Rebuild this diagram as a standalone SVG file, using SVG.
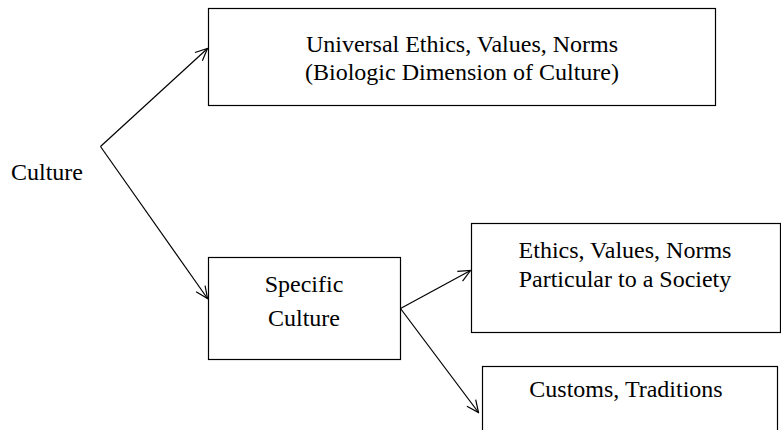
<svg xmlns="http://www.w3.org/2000/svg" width="781" height="430" viewBox="0 0 781 430">
<defs>
<marker id="arr" markerWidth="14" markerHeight="14" refX="13" refY="7" orient="auto" markerUnits="userSpaceOnUse">
<path d="M1,1.5 L13,7 L1,12.5" fill="none" stroke="#000" stroke-width="1.2"/>
</marker>
<style>
.box{fill:#fff;stroke:#000;stroke-width:1.2}
.t{font-family:"Liberation Serif","Times New Roman",serif;font-size:24px;fill:#000;text-anchor:middle}
.c{fill:none;stroke:#000;stroke-width:1.2;marker-end:url(#arr)}
</style>
</defs>
<g id="connectors">
<path class="c" d="M100.5,146.5 L207.5,48.5"/>
<path class="c" d="M100.5,146.5 L207.5,298.5"/>
<path class="c" d="M400.5,308.5 L470.5,270.5"/>
<path class="c" d="M400.5,308.5 L478.5,412.5"/>
</g>
<g id="culture">
<text class="t" x="47" y="179.5">Culture</text>
</g>
<g id="universal">
<rect class="box" x="208.5" y="8.5" width="507" height="97"/>
<text class="t" x="462" y="52">Universal Ethics, Values, Norms</text>
<text class="t" x="462" y="80">(Biologic Dimension of Culture)</text>
</g>
<g id="specific">
<rect class="box" x="208.5" y="257.5" width="192" height="102"/>
<text class="t" x="304" y="292">Specific</text>
<text class="t" x="304" y="326">Culture</text>
</g>
<g id="particular">
<rect class="box" x="471.5" y="223.5" width="309" height="109"/>
<text class="t" x="625" y="258">Ethics, Values, Norms</text>
<text class="t" x="625" y="287">Particular to a Society</text>
</g>
<g id="customs">
<rect class="box" x="482.5" y="366.5" width="295" height="80"/>
<text class="t" x="626" y="397">Customs, Traditions</text>
</g>
</svg>
